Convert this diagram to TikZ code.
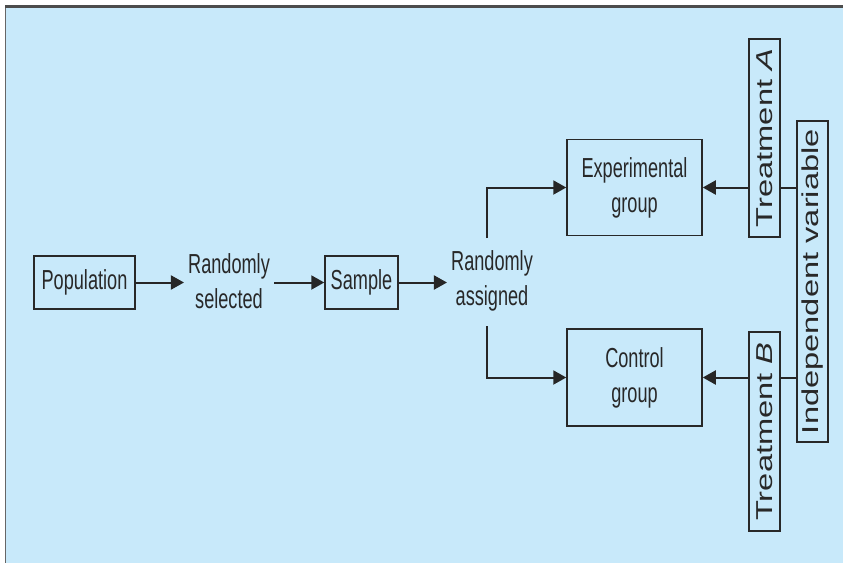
\documentclass[tikz,border=0pt]{standalone}
\usepackage{fontspec}
\usetikzlibrary{arrows.meta}
\newfontfamily\hfont[FakeStretch=0.66]{Liberation Sans}
\newfontfamily\vfont[FakeStretch=1.42]{Liberation Sans}
\definecolor{bgblue}{RGB}{200,233,250}
\definecolor{ink}{RGB}{40,40,40}
\begin{document}
\begin{tikzpicture}[x=1pt,y=-1pt,
  box/.style={draw=ink,line width=1.5pt,inner sep=0pt,text=ink,align=center,
    font=\hfont\fontsize{27.5}{35}\selectfont},
  vbox/.style={draw=ink,line width=1.5pt,inner sep=0pt,text=ink,
    font=\vfont\fontsize{23}{26}\selectfont},
  txt/.style={text=ink,align=center,inner sep=4pt,font=\hfont\fontsize{27.5}{35}\selectfont},
  arr/.style={draw=black!85,line width=2pt,-{Triangle[length=13pt,width=14pt]}},
  ln/.style={draw=black!85,line width=2pt}]
\useasboundingbox (0,0) rectangle (843,563);
\fill[white] (0,0) rectangle (843,563);
\fill[bgblue] (5,6) rectangle (843,563);
\draw[gray!80!black,line width=1pt] (5,6) -- (5,563);
\draw[gray!60!black,line width=3pt] (5,6) -- (843,6);

\node[box,minimum width=101pt,minimum height=53pt] (pop) at (84.5,282.5) {Population};
\node[txt] (rs) at (229,281) {Randomly\\selected};
\node[box,minimum width=73pt,minimum height=53pt] (sample) at (361.5,282.5) {Sample};
\node[txt] (ra) at (492,281) {Randomly\\assigned};
\node[box,minimum width=135pt,minimum height=96pt] (exp) at (634.5,187.5) {Experimental\\group};
\node[box,minimum width=135pt,minimum height=97pt] (ctrl) at (634.5,377.5) {Control\\group};
\node[vbox,minimum width=31pt,minimum height=198pt] (tA) at (764.5,138) {\rotatebox{90}{Treatment \textit{A}}};
\node[vbox,minimum width=31pt,minimum height=199pt] (tB) at (764.5,431.5) {\rotatebox{90}{Treatment \textit{B}}};
\node[vbox,minimum width=31pt,minimum height=321pt] (iv) at (812.5,281.5) {\rotatebox{90}{Independent variable}};

\coordinate (brA) at (487,238);
\coordinate (brB) at (487,326);

\draw[arr] (pop.east) -- (pop.east -| rs.west);
\draw[arr] (sample.west -| rs.east) -- (sample.west);
\draw[arr] (sample.east) -- (sample.east -| ra.west);
\draw[arr] (brA) |- (exp.west);
\draw[arr] (brB) |- (ctrl.west);
\draw[arr] (exp.east -| tA.west) -- (exp.east);
\draw[arr] (ctrl.east -| tB.west) -- (ctrl.east);
\draw[ln] (exp.east -| tA.east) -- (exp.east -| iv.west);
\draw[ln] (ctrl.east -| tB.east) -- (ctrl.east -| iv.west);
\end{tikzpicture}
\end{document}
